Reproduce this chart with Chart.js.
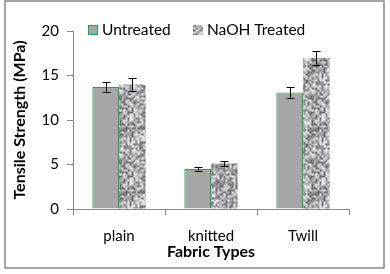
<!DOCTYPE html>
<html>
<head>
<meta charset="utf-8">
<script src="https://cdn.jsdelivr.net/npm/chart.js@4"></script>
<style>
  body { margin: 0; background: #fff; }
  #wrap { width: 390px; height: 274px; }
</style>
</head>
<body>
<div id="wrap"><canvas id="fabricChart" width="390" height="274"></canvas></div>
<script>
// data
const fabricTypes = ['plain', 'knitted', 'Twill'];
const untreated = [13.7, 4.5, 13.1];
const untreatedErr = [0.6, 0.2, 0.6];
const naohTreated = [14.0, 5.1, 17.0];
const naohErr = [0.7, 0.25, 0.8];
const yTicks = [0, 5, 10, 15, 20];

const FONT = 'Lato';

// speckled grey texture for the treated bars (fixed seed, wraps seamlessly)
function makeSpeckle() {
    let seed = 987;
    const rnd = () => { seed = (seed * 1103515245 + 12345) & 0x7fffffff; return seed / 0x7fffffff; };
    const n = 32, s = 2, N = n * s;
    const cells = [];
    for (let i = 0; i < n * n; i++) cells.push(95 + rnd() * 145);
    const big = document.createElement('canvas');
    big.width = N; big.height = N;
    const bctx = big.getContext('2d');
    const img = bctx.createImageData(N, N);
    for (let y = 0; y < N; y++) {
        for (let x = 0; x < N; x++) {
            const fx = x / s, fy = y / s;
            const x0 = Math.floor(fx), y0 = Math.floor(fy);
            const tx = fx - x0, ty = fy - y0;
            const x1 = (x0 + 1) % n, y1 = (y0 + 1) % n;
            const g = cells[y0 * n + x0] * (1 - tx) * (1 - ty) + cells[y0 * n + x1] * tx * (1 - ty)
                    + cells[y1 * n + x0] * (1 - tx) * ty + cells[y1 * n + x1] * tx * ty;
            const k = (y * N + x) * 4;
            img.data[k] = g; img.data[k + 1] = g; img.data[k + 2] = g + 4; img.data[k + 3] = 255;
        }
    }
    bctx.putImageData(img, 0, 0);
    return bctx.createPattern(big, 'repeat');
}
const speckle = makeSpeckle();

const errorBars = {
    id: 'errorBars',
    afterDatasetsDraw(chart) {
        const ctx = chart.ctx;
        const y = chart.scales.y;
        ctx.save();
        ctx.strokeStyle = '#000';
        ctx.lineWidth = 1;
        chart.data.datasets.forEach((ds, di) => {
            const meta = chart.getDatasetMeta(di);
            meta.data.forEach((bar, i) => {
                const v = ds.data[i], e = ds.errors[i];
                const x = Math.round(bar.x) + 0.5;
                const top = Math.round(y.getPixelForValue(v + e)) + 0.5;
                const bot = Math.round(y.getPixelForValue(v - e)) + 0.5;
                ctx.beginPath();
                ctx.moveTo(x, top); ctx.lineTo(x, bot);
                ctx.moveTo(x - 4, top); ctx.lineTo(x + 4, top);
                ctx.moveTo(x - 4, bot); ctx.lineTo(x + 4, bot);
                ctx.stroke();
            });
        });
        ctx.restore();
    }
};

// legend sits inside the plot, across the top
const innerLegend = {
    id: 'innerLegend',
    afterDraw(chart) {
        const ctx = chart.ctx;
        const spots = [88, 193];
        ctx.save();
        ctx.font = '15.5px ' + FONT;
        ctx.textBaseline = 'middle';
        chart.data.datasets.forEach((ds, i) => {
            const x = spots[i];
            ctx.fillStyle = ds.backgroundColor;
            ctx.fillRect(x, 25, 10, 10);
            if (ds.borderWidth) {
                ctx.strokeStyle = ds.borderColor;
                ctx.lineWidth = 1;
                ctx.strokeRect(x + 0.5, 25.5, 9, 9);
            }
            ctx.fillStyle = '#000';
            ctx.fillText(ds.label, x + 14, 30);
        });
        ctx.restore();
    }
};

const frame = {
    id: 'frame',
    beforeDraw(chart) {
        const ctx = chart.ctx;
        ctx.save();
        ctx.fillStyle = '#fff';
        ctx.fillRect(0, 0, chart.width, chart.height);
        ctx.strokeStyle = '#888';
        ctx.lineWidth = 1.5;
        ctx.strokeRect(5, 1, 379, 267);
        ctx.restore();
    }
};

new Chart(document.getElementById('fabricChart'), {
    type: 'bar',
    data: {
        labels: fabricTypes,
        datasets: [{
            label: 'Untreated',
            data: untreated,
            errors: untreatedErr,
            backgroundColor: '#a6a6a6',
            borderColor: '#21a650',
            borderWidth: 1
        }, {
            label: 'NaOH Treated',
            data: naohTreated,
            errors: naohErr,
            backgroundColor: speckle,
            borderWidth: 0
        }]
    },
    options: {
        responsive: false,
        animation: false,
        categoryPercentage: 0.58,
        barPercentage: 1.0,
        layout: { padding: { left: 10, right: 41, top: 31, bottom: 6 } },
        plugins: {
            legend: { display: false },
            tooltip: { enabled: false }
        },
        scales: {
            x: {
                grid: { drawOnChartArea: false, tickLength: 6, color: '#888' },
                border: { color: '#888' },
                ticks: { color: '#000', padding: 12, font: { family: FONT, size: 15 } },
                title: {
                    display: true,
                    text: 'Fabric Types',
                    color: '#000',
                    padding: { top: 0, bottom: 7 },
                    font: { family: FONT, size: 16, weight: 'bold' }
                },
                afterFit(scale) { scale.height = 59; }
            },
            y: {
                min: 0,
                max: 20,
                afterBuildTicks(scale) { scale.ticks = yTicks.map(v => ({ value: v })); },
                grid: { drawOnChartArea: false, tickLength: 6, color: '#888' },
                border: { color: '#888' },
                ticks: { color: '#000', padding: 8, font: { family: FONT, size: 15 } },
                title: {
                    display: true,
                    text: 'Tensile Strength (MPa)',
                    color: '#000',
                    padding: { top: 0, bottom: 0 },
                    font: { family: FONT, size: 16, weight: 'bold' }
                },
                afterFit(scale) { scale.width = 63; }
            }
        }
    },
    plugins: [frame, errorBars, innerLegend]
});
</script>
</body>
</html>
